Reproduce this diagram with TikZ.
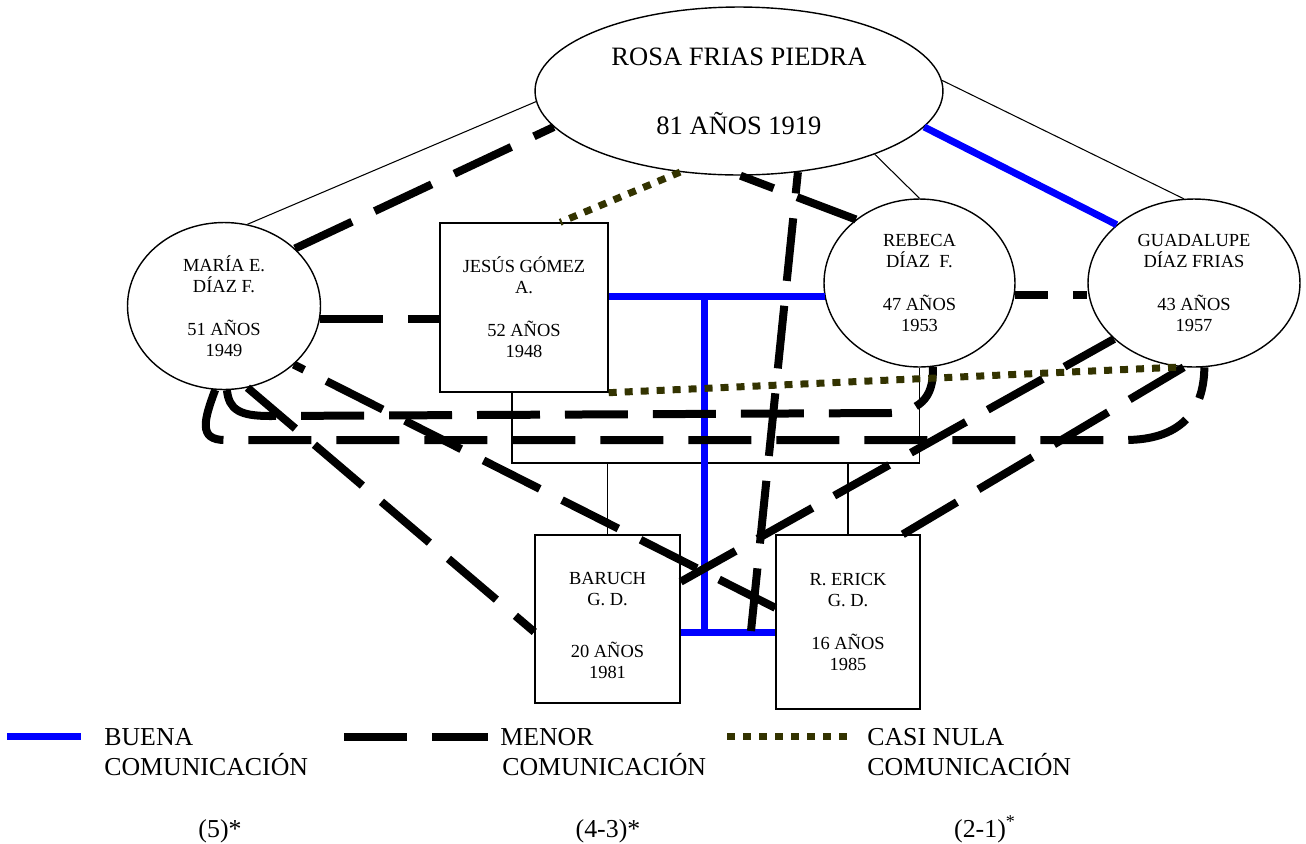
\documentclass[tikz,border=0pt]{standalone}
\usepackage{fontspec}
\setmainfont{Liberation Serif}
\usetikzlibrary{shapes.geometric}
\definecolor{olivo}{RGB}{51,51,0}

\begin{document}
\begin{tikzpicture}[x=0.02cm,y=-0.02cm,
  persona/.style={
    ellipse,
    draw,
    line width=0.8pt,
    inner sep=0pt,
    align=center,
    font=\fontsize{10.5}{11.9}\selectfont
  },
  caja/.style={
    rectangle,
    draw,
    line width=0.8pt,
    inner sep=0pt,
    align=center,
    font=\fontsize{10.5}{11.9}\selectfont
  },
  linea/.style={line width=0.6pt},
  buena/.style={draw=blue, line width=0.14cm},
  menor/.style={line width=0.16cm, dash pattern=on 1.26cm off 0.5cm},
  nula/.style={draw=olivo, line width=0.14cm, dash pattern=on 0.16cm off 0.16cm},
  leyenda/.style={inner sep=0pt, anchor=base west, font=\fontsize{14.7}{17}\selectfont}]
  \useasboundingbox (0,0) rectangle (1306,843);

  % personas
  \node[persona, minimum width=8.16cm, minimum height=3.36cm,
    font=\fontsize{15.1}{17.4}\selectfont] (rosa) at (739,91)
    {ROSA FRIAS PIEDRA\\[21.7pt]81 AÑOS 1919};
  \node[persona, minimum width=3.86cm, minimum height=3.34cm] (maria) at (224,306)
    {MARÍA E.\\DÍAZ F.\\[12.5pt]51 AÑOS\\1949};
  \node[caja, minimum width=3.36cm, minimum height=3.38cm] (jesus) at (524,307.5)
    {JESÚS GÓMEZ\\A.\\[12.5pt]52 AÑOS\\1948};
  \node[persona, minimum width=3.82cm, minimum height=3.36cm] (rebeca) at (919.5,283)
    {REBECA\\DÍAZ~~F.\\[12.5pt]47 AÑOS\\1953};
  \node[persona, minimum width=4.24cm, minimum height=3.36cm] (guadalupe) at (1194,283)
    {GUADALUPE\\DÍAZ FRIAS\\[12.5pt]43 AÑOS\\1957};
  \node[caja, minimum width=2.9cm, minimum height=3.36cm] (baruch) at (607.5,619)
    {\rule{0pt}{14.5pt}BARUCH\\G. D.\\[18pt]20 AÑOS\\1981};
  \node[caja, minimum width=2.88cm, minimum height=3.48cm] (erick) at (848,622)
    {R. ERICK\\G. D.\\[12.5pt]16 AÑOS\\1985};

  % arbol
  \draw[linea] (rosa.183) -- (maria.74);
  \draw[linea] (rosa.335) -- (rebeca.north);
  \draw[linea] (rosa.3) -- (guadalupe.97);
  \coordinate (union) at (512,463);
  \draw[linea] (union |- jesus.south) -- (union) -| (rebeca.south);
  \draw[linea] (baruch.north) -- (baruch.north |- union);
  \draw[linea] (erick.north) -- (erick.north |- union);

  % buena comunicacion
  \coordinate (tarriba) at (704,296);
  \coordinate (tabajo) at (704,632);
  \draw[buena] (rosa.349) -- (guadalupe.143);
  \draw[buena] (rebeca.188) -- (rebeca.188 -| jesus.east);
  \draw[buena] (tarriba) -- (tabajo);
  \draw[buena] (tabajo -| baruch.east) -- (tabajo -| erick.west);

  % menor comunicacion
  \coordinate (rosafin) at (751,631);
  \draw[menor] (maria.39) -- (rosa.191);
  \draw[menor] (maria.352) -- (maria.352 -| jesus.west);
  \draw[menor] (rebeca.135) -- (rosa.271);
  \draw[menor] (rosafin) -- (rosa.306);
  \draw[menor, dash phase=0.6cm] (rebeca.353) -- (rebeca.353 -| guadalupe.west);
  \draw[menor] (maria.286) -- (baruch.190);
  \draw[menor] (erick.169) -- (maria.320);
  \draw[menor] (baruch.27) -- (guadalupe.215);
  \draw[menor] (erick.58) -- (guadalupe.263);
  \draw[menor] (maria.272) .. controls (229,410) and (240,416) .. (270,416)
    -- (890,413) .. controls (925,411) and (934,392) .. (rebeca.279);
  \draw[menor] (maria.264) .. controls (204,420) and (198,440) .. (225,440)
    -- (1125,440) .. controls (1180,440) and (1204,412) .. (guadalupe.277);

  % casi nula
  \draw[nula] (rosa.234) -- (jesus.67);
  \draw[nula] (jesus.south east) -- (guadalupe.261);

  % leyenda
  \node[leyenda] (leybuena) at (104,745) {BUENA};
  \node[leyenda] (leybuenacom) at (104,775) {COMUNICACIÓN};
  \node[leyenda] (leymenor) at (500,745) {MENOR};
  \node[leyenda] (leymenorcom) at (502,775) {COMUNICACIÓN};
  \node[leyenda] (leynula) at (867,745) {CASI NULA};
  \node[leyenda] (leynulacom) at (867,775) {COMUNICACIÓN};
  \draw[buena] ([xshift=-1.94cm]leybuena.west) -- ([xshift=-0.46cm]leybuena.west);
  \draw[menor] ([xshift=-3.12cm]leymenor.west) -- ([xshift=-0.24cm]leymenor.west);
  \draw[nula] ([xshift=-2.8cm]leynula.west) -- ([xshift=-0.38cm]leynula.west);
  \node[leyenda, anchor=base] (nota5) at (220,837) {(5)*};
  \node[leyenda, anchor=base] (nota43) at (608,837) {(4-3)*};
  \node[leyenda, anchor=base] (nota21) at (985,837) {(2-1)\textsuperscript{*}};
\end{tikzpicture}
\end{document}
